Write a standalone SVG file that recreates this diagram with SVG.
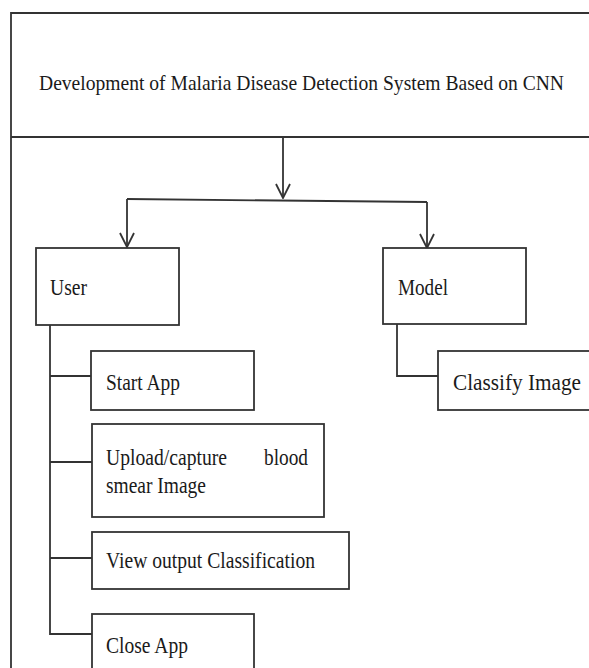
<svg xmlns="http://www.w3.org/2000/svg" width="589" height="668" viewBox="0 0 589 668">
<style>
.box{fill:#fff;stroke:#333;stroke-width:1.8}
.ln{fill:none;stroke:#333;stroke-width:1.8}
text{font-family:"Liberation Serif","Times New Roman",serif;fill:#1a1a1a;font-size:24px}
.t{font-size:21px}
</style>
<defs>
<marker id="ah" viewBox="0 0 16 16" refX="15" refY="8" markerWidth="16" markerHeight="16" markerUnits="userSpaceOnUse" orient="auto">
<path d="M1,1 L15,8 L1,15" fill="none" stroke="#333" stroke-width="1.8"/>
</marker>
</defs>
<rect width="589" height="668" fill="#fff"/>
<g id="frame">
<path class="ln" d="M590,13 H11 V668 M11,137 H590"/>
</g>
<g id="title">
<text class="t" x="39" y="90" textLength="525" lengthAdjust="spacingAndGlyphs">Development of Malaria Disease Detection System Based on CNN</text>
</g>
<g id="connectors">
<path class="ln" d="M283,137 V198" marker-end="url(#ah)"/>
<path class="ln" d="M127,199 L427,202"/>
<path class="ln" d="M127,199 V247" marker-end="url(#ah)"/>
<path class="ln" d="M427,202 V248" marker-end="url(#ah)"/>
<path class="ln" d="M50,325 V634 H92 M50,376 H92 M50,462 H92 M50,558 H92"/>
<path class="ln" d="M397,324 V376 H438"/>
</g>
<g id="user">
<rect class="box" x="36" y="248" width="143" height="77"/>
<text x="50" y="295" textLength="37" lengthAdjust="spacingAndGlyphs">User</text>
</g>
<g id="model">
<rect class="box" x="383" y="248" width="143" height="76"/>
<text x="398" y="295" textLength="50" lengthAdjust="spacingAndGlyphs">Model</text>
</g>
<g id="start-app">
<rect class="box" x="91" y="351" width="163" height="59"/>
<text x="106" y="390" textLength="74" lengthAdjust="spacingAndGlyphs">Start App</text>
</g>
<g id="classify-image">
<rect class="box" x="438" y="351" width="160" height="59"/>
<text x="453" y="390" textLength="128" lengthAdjust="spacingAndGlyphs">Classify Image</text>
</g>
<g id="upload">
<rect class="box" x="92" y="424" width="232" height="93"/>
<text x="106" y="465" textLength="121" lengthAdjust="spacingAndGlyphs">Upload/capture</text>
<text x="264" y="465" textLength="44" lengthAdjust="spacingAndGlyphs">blood</text>
<text x="106" y="493" textLength="100" lengthAdjust="spacingAndGlyphs">smear Image</text>
</g>
<g id="view-output">
<rect class="box" x="92" y="532" width="257" height="57"/>
<text x="106" y="568" textLength="209" lengthAdjust="spacingAndGlyphs">View output Classification</text>
</g>
<g id="close-app">
<rect class="box" x="92" y="614" width="162" height="60"/>
<text x="106" y="653" textLength="82" lengthAdjust="spacingAndGlyphs">Close App</text>
</g>
</svg>
